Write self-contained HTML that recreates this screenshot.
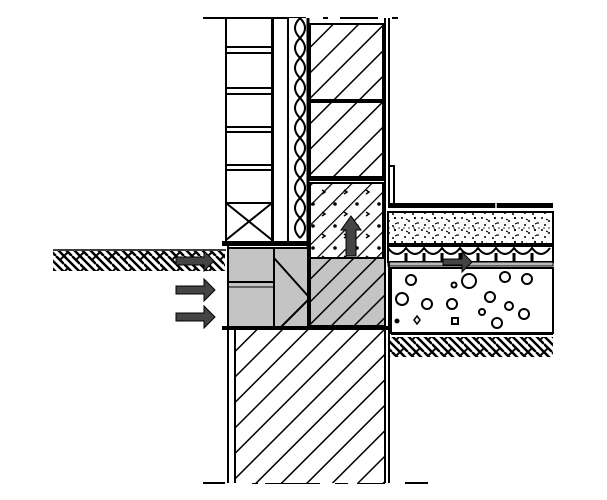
<!DOCTYPE html>
<html><head><meta charset="utf-8"><style>html,body{margin:0;padding:0;background:#fff}svg{display:block}</style></head>
<body>
<svg width="607" height="500" viewBox="0 0 607 500" xmlns="http://www.w3.org/2000/svg">
<defs>
<pattern id="h1" patternUnits="userSpaceOnUse" width="18" height="18" patternTransform="rotate(45)">
<rect width="18" height="18" fill="#fff"/><line x1="0" y1="0" x2="0" y2="18" stroke="#000" stroke-width="3"/></pattern>
<pattern id="h2" patternUnits="userSpaceOnUse" width="14" height="14" patternTransform="rotate(45)">
<rect width="14" height="14" fill="#fff"/><line x1="0" y1="0" x2="0" y2="14" stroke="#000" stroke-width="2.5"/></pattern>
<pattern id="hg" patternUnits="userSpaceOnUse" width="16" height="16" patternTransform="rotate(45)">
<rect width="16" height="16" fill="#c4c4c4"/><line x1="0" y1="0" x2="0" y2="16" stroke="#000" stroke-width="3"/></pattern>
<pattern id="conc" patternUnits="userSpaceOnUse" width="22" height="22">
<rect width="22" height="22" fill="none"/><circle cx="5" cy="6" r="1.8" fill="#000"/><path d="M14 14 l3 2 l-3 2" stroke="#000" fill="none" stroke-width="1.5"/></pattern>
<pattern id="earth" patternUnits="userSpaceOnUse" width="16" height="16">
<rect width="16" height="16" fill="#fff"/>
<path d="M0 0 L8 8 M8 0 L16 8 M0 8 L8 16 M8 8 L16 16" stroke="#000" stroke-width="2.5"/>
<path d="M16 0 L12 4 M4 12 L0 16" stroke="#000" stroke-width="2"/></pattern>
<pattern id="sand" patternUnits="userSpaceOnUse" width="20" height="12">
<rect width="20" height="12" fill="#fff"/>
<circle cx="2" cy="2" r="1" fill="#000"/><circle cx="9" cy="5" r="1" fill="#000"/><circle cx="15" cy="2" r="1.1" fill="#000"/>
<circle cx="5" cy="9" r="1" fill="#000"/><circle cx="13" cy="10" r="1" fill="#000"/><circle cx="18" cy="7" r="0.9" fill="#000"/>
<path d="M6 3 l2 1 M15 8 l2 -1" stroke="#000" stroke-width="1"/></pattern>
</defs>

<!-- top dashed line -->
<path d="M203 18 H238 M255 18 H262 M272 18 H306 M323 18 H328 M340 18 H378 M392 18 H398" stroke="#000" stroke-width="2"/>
<path d="M203 483 H225 M252 483 H258 M265 483 H320 M335 483 H348 M357 483 H385 M405 483 H428" stroke="#000" stroke-width="2"/>

<!-- brick column -->
<rect x="226" y="18" width="46" height="225" fill="#fff" stroke="#000" stroke-width="2"/>
<g stroke="#000" stroke-width="2">
<line x1="226" y1="47" x2="272" y2="47"/><line x1="226" y1="53" x2="272" y2="53"/>
<line x1="226" y1="88" x2="272" y2="88"/><line x1="226" y1="94" x2="272" y2="94"/>
<line x1="226" y1="127" x2="272" y2="127"/><line x1="226" y1="132" x2="272" y2="132"/>
<line x1="226" y1="165" x2="272" y2="165"/><line x1="226" y1="170" x2="272" y2="170"/>
<line x1="226" y1="203" x2="272" y2="203"/>
<line x1="226" y1="203" x2="272" y2="240"/><line x1="272" y1="203" x2="226" y2="240"/>
</g>
<!-- air gap -->
<rect x="273" y="18" width="15" height="225" fill="#fff" stroke="#000" stroke-width="2"/>
<!-- insulation scallops -->
<rect x="289" y="18" width="20" height="227" fill="#fff"/>
<path d="M300 18 q-10 10 0 20 q-10 10 0 20 q-10 10 0 20 q-10 10 0 20 q-10 10 0 20 q-10 10 0 20 q-10 10 0 20 q-10 10 0 20 q-10 10 0 20 q-10 10 0 20 q-10 10 0 20" fill="none" stroke="#000" stroke-width="2"/>
<path d="M300 18 q10 10 0 20 q10 10 0 20 q10 10 0 20 q10 10 0 20 q10 10 0 20 q10 10 0 20 q10 10 0 20 q10 10 0 20 q10 10 0 20 q10 10 0 20 q10 10 0 20" fill="none" stroke="#000" stroke-width="2"/>
<line x1="308" y1="18" x2="308" y2="330" stroke="#000" stroke-width="3"/>

<!-- hatched wall blocks -->
<rect x="310" y="24" width="73" height="76" fill="url(#h1)" stroke="#000" stroke-width="2"/>
<rect x="310" y="102" width="73" height="75" fill="url(#h1)" stroke="#000" stroke-width="2"/>
<rect x="308" y="177" width="77" height="4" fill="#000"/>
<!-- concrete block -->
<rect x="310" y="183" width="73" height="75" fill="url(#h2)" stroke="#000" stroke-width="2"/>
<rect x="310" y="183" width="73" height="75" fill="url(#conc)"/>
<!-- right wall lines -->
<line x1="385" y1="18" x2="385" y2="330" stroke="#000" stroke-width="2"/>
<line x1="389" y1="18" x2="389" y2="205" stroke="#000" stroke-width="2"/>
<rect x="389" y="166" width="5" height="38" fill="#fff" stroke="#000" stroke-width="2"/>

<!-- floor layers -->
<rect x="388" y="203" width="165" height="5" fill="#000"/>
<line x1="496" y1="203" x2="496" y2="208" stroke="#fff" stroke-width="1.5"/>
<rect x="388" y="212" width="165" height="32" fill="url(#sand)" stroke="#000" stroke-width="2"/>
<line x1="388" y1="228" x2="553" y2="228" stroke="#000" stroke-width="0.8" stroke-dasharray="2 3"/>
<rect x="388" y="246" width="165" height="16" fill="#fff" stroke="#000" stroke-width="2"/>
<path d="M388 248 q9 12 18 0 q9 12 18 0 q9 12 18 0 q9 12 18 0 q9 12 18 0 q9 12 18 0 q9 12 18 0 q9 12 18 0 q9 12 18 0" fill="none" stroke="#000" stroke-width="2"/>
<g stroke="#000" stroke-width="3"><line x1="406" y1="253" x2="406" y2="262"/><line x1="424" y1="253" x2="424" y2="262"/><line x1="442" y1="253" x2="442" y2="262"/><line x1="460" y1="253" x2="460" y2="262"/><line x1="478" y1="253" x2="478" y2="262"/><line x1="496" y1="253" x2="496" y2="262"/><line x1="514" y1="253" x2="514" y2="262"/><line x1="532" y1="253" x2="532" y2="262"/></g>
<rect x="388" y="262" width="165" height="4" fill="#bbb" stroke="#000" stroke-width="1"/>
<!-- gravel -->
<rect x="391" y="268" width="162" height="65" fill="#fff" stroke="#000" stroke-width="2"/>
<g fill="#fff" stroke="#000" stroke-width="2">
<circle cx="411" cy="280" r="5"/><circle cx="469" cy="281" r="7"/><circle cx="505" cy="277" r="5"/><circle cx="527" cy="279" r="5"/>
<circle cx="402" cy="299" r="6"/><circle cx="427" cy="304" r="5"/><circle cx="452" cy="304" r="5"/><circle cx="490" cy="297" r="5"/><circle cx="509" cy="306" r="4"/><circle cx="524" cy="314" r="5"/>
<circle cx="497" cy="323" r="5"/><circle cx="454" cy="285" r="2.5"/><rect x="452" y="318" width="6" height="6"/><circle cx="482" cy="312" r="3"/>
</g>
<circle cx="397" cy="321" r="2.5" fill="#000"/><path d="M417 316 l3 4 l-3 4 l-3 -4z" fill="#fff" stroke="#000" stroke-width="1.5"/>
<line x1="391" y1="334" x2="553" y2="334" stroke="#000" stroke-width="2"/>
<!-- right earth -->
<rect x="390" y="337" width="163" height="20" fill="url(#earth)"/>
<!-- left earth -->
<line x1="53" y1="250" x2="226" y2="250" stroke="#000" stroke-width="1.5"/>
<rect x="53" y="251" width="172" height="20" fill="url(#earth)"/>

<!-- grey foundation part -->
<rect x="228" y="248" width="80" height="80" fill="#c4c4c4" stroke="#000" stroke-width="2"/>
<line x1="274" y1="248" x2="274" y2="328" stroke="#000" stroke-width="2"/>
<line x1="228" y1="282" x2="274" y2="282" stroke="#000" stroke-width="2"/>
<line x1="228" y1="287" x2="274" y2="287" stroke="#000" stroke-width="1"/>
<line x1="274" y1="258" x2="308" y2="296" stroke="#000" stroke-width="2"/>
<line x1="308" y1="300" x2="280" y2="328" stroke="#000" stroke-width="2"/>
<rect x="222" y="241" width="86" height="5" fill="#000"/>
<rect x="310" y="258" width="75" height="68" fill="url(#hg)" stroke="#000" stroke-width="2"/>
<rect x="222" y="326" width="166" height="4" fill="#000"/>

<!-- footing -->
<rect x="235" y="330" width="150" height="153" fill="url(#h1)"/>
<line x1="228" y1="245" x2="228" y2="483" stroke="#000" stroke-width="2"/>
<line x1="235" y1="330" x2="235" y2="483" stroke="#000" stroke-width="2"/>
<line x1="385" y1="330" x2="385" y2="483" stroke="#000" stroke-width="2"/>
<line x1="389" y1="262" x2="389" y2="483" stroke="#000" stroke-width="2"/>

<!-- arrows -->
<g fill="#444" stroke="#000" stroke-width="1">
<path d="M176 257 H204 V251 L214 261 L204 271 V265 H176 Z"/>
<path d="M176 286 H204 V279 L215 290 L204 301 V294 H176 Z"/>
<path d="M176 313 H204 V306 L215 317 L204 328 V321 H176 Z"/>
<path d="M443 259 H462 V252 L472 262 L462 272 V265 H443 Z"/>
<path d="M346 256 V230 H341 L351 216 L361 230 H356 V256 Z"/>
</g>
</svg>
</body></html>
